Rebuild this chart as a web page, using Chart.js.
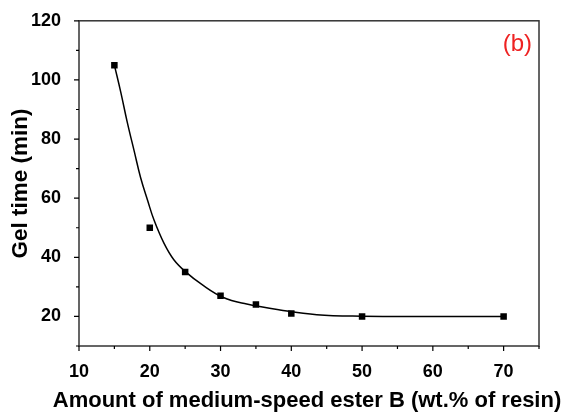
<!DOCTYPE html>
<html>
<head>
<meta charset="utf-8">
<script src="https://cdn.jsdelivr.net/npm/chart.js@4"></script>
<style>
  html, body { margin: 0; padding: 0; background: #fff; }
  #wrap { width: 568px; height: 414px; }
</style>
</head>
<body>
<div id="wrap"><canvas id="gelChart" width="568" height="414"></canvas></div>
<script>
// measured points
const esterAmount = [15, 20, 25, 30, 35, 40, 50, 70];
const gelTime = [105, 50, 35, 27, 24, 21, 20, 20];

// fitted curve
const fitX = [15, 15.9, 16.8, 17.8, 18.7, 19.7, 20.6, 22, 23.4, 25.2, 27.3, 30.4, 33.7, 38.4, 43.6, 50, 60, 70];
const fitY = [105, 95.9, 85.9, 75.9, 67, 59.2, 52.6, 44.8, 39.2, 34.8, 30.9, 26.4, 24.2, 22.2, 20.6, 20.1, 20, 20];

// tick labels
const xTicks = [10, 20, 30, 40, 50, 60, 70];
const yTicks = [20, 40, 60, 80, 100, 120];
const xMinor = [15, 25, 35, 45, 55, 65, 75];
const yMinor = [10, 30, 50, 70, 90, 110];

const xTitle = "Amount of medium-speed ester B (wt.% of resin)";
const font = "'Liberation Sans', Arial, sans-serif";

// frame, outward tick marks, x title (wider than the plot, so drawn here) and panel label
const framePlugin = {
  id: "frame",
  afterDraw(chart) {
    const { ctx, chartArea: a, scales } = chart;
    ctx.save();
    ctx.strokeStyle = "#333";
    ctx.lineWidth = 1.5;
    ctx.strokeRect(a.left, a.top, a.right - a.left, a.bottom - a.top);
    ctx.strokeStyle = "#000";
    ctx.lineWidth = 1.2;
    ctx.beginPath();
    xTicks.forEach(v => { const x = scales.x.getPixelForValue(v); ctx.moveTo(x, a.bottom); ctx.lineTo(x, a.bottom + 5); });
    xMinor.forEach(v => { const x = scales.x.getPixelForValue(v); ctx.moveTo(x, a.bottom); ctx.lineTo(x, a.bottom + 3); });
    yTicks.forEach(v => { const y = scales.y.getPixelForValue(v); ctx.moveTo(a.left, y); ctx.lineTo(a.left - 5, y); });
    yMinor.forEach(v => { const y = scales.y.getPixelForValue(v); ctx.moveTo(a.left, y); ctx.lineTo(a.left - 3, y); });
    ctx.stroke();

    ctx.fillStyle = "#000";
    ctx.font = "bold 22px " + font;
    ctx.textAlign = "center";
    ctx.textBaseline = "alphabetic";
    ctx.fillText(xTitle, 307, 407);

    ctx.fillStyle = "#ee2222";
    ctx.font = "24px " + font;
    ctx.textAlign = "right";
    ctx.textBaseline = "middle";
    ctx.fillText("(b)", 532, 44);
    ctx.restore();
  }
};

const ctx = document.getElementById("gelChart").getContext("2d");
new Chart(ctx, {
  type: "scatter",
  data: {
    datasets: [
      {
        label: "fit",
        data: fitX.map((x, i) => ({ x: x, y: fitY[i] })),
        showLine: true,
        borderColor: "#000",
        borderWidth: 1.5,
        pointRadius: 0,
        tension: 0.4,
        fill: false
      },
      {
        label: "Gel time",
        data: esterAmount.map((x, i) => ({ x: x, y: gelTime[i] })),
        pointStyle: "rect",
        pointRadius: 4.6,
        backgroundColor: "#000",
        borderColor: "#000",
        borderWidth: 0
      }
    ]
  },
  options: {
    responsive: false,
    animation: false,
    layout: { padding: { top: 17, right: 29, left: 0, bottom: 0 } },
    plugins: { legend: { display: false }, tooltip: { enabled: false } },
    scales: {
      x: {
        type: "linear",
        min: 10,
        max: 75,
        afterBuildTicks: s => { s.ticks = xTicks.map(v => ({ value: v })); },
        afterFit: s => { s.height = 68; },
        grid: { display: false },
        border: { display: false },
        ticks: { color: "#000", padding: 7, font: { family: font, size: 18, weight: "bold" }, maxRotation: 0 },
        title: { display: false }
      },
      y: {
        min: 10,
        max: 120,
        afterBuildTicks: s => { s.ticks = yTicks.map(v => ({ value: v })); },
        afterFit: s => { s.width = 79; },
        grid: { display: false },
        border: { display: false },
        ticks: { color: "#000", padding: 10, font: { family: font, size: 18, weight: "bold" } },
        title: { display: true, text: "Gel time (min)", color: "#000", padding: { top: 7, bottom: 0 }, font: { family: font, size: 22.5, weight: "bold" } }
      }
    }
  },
  plugins: [framePlugin]
});
</script>
</body>
</html>
